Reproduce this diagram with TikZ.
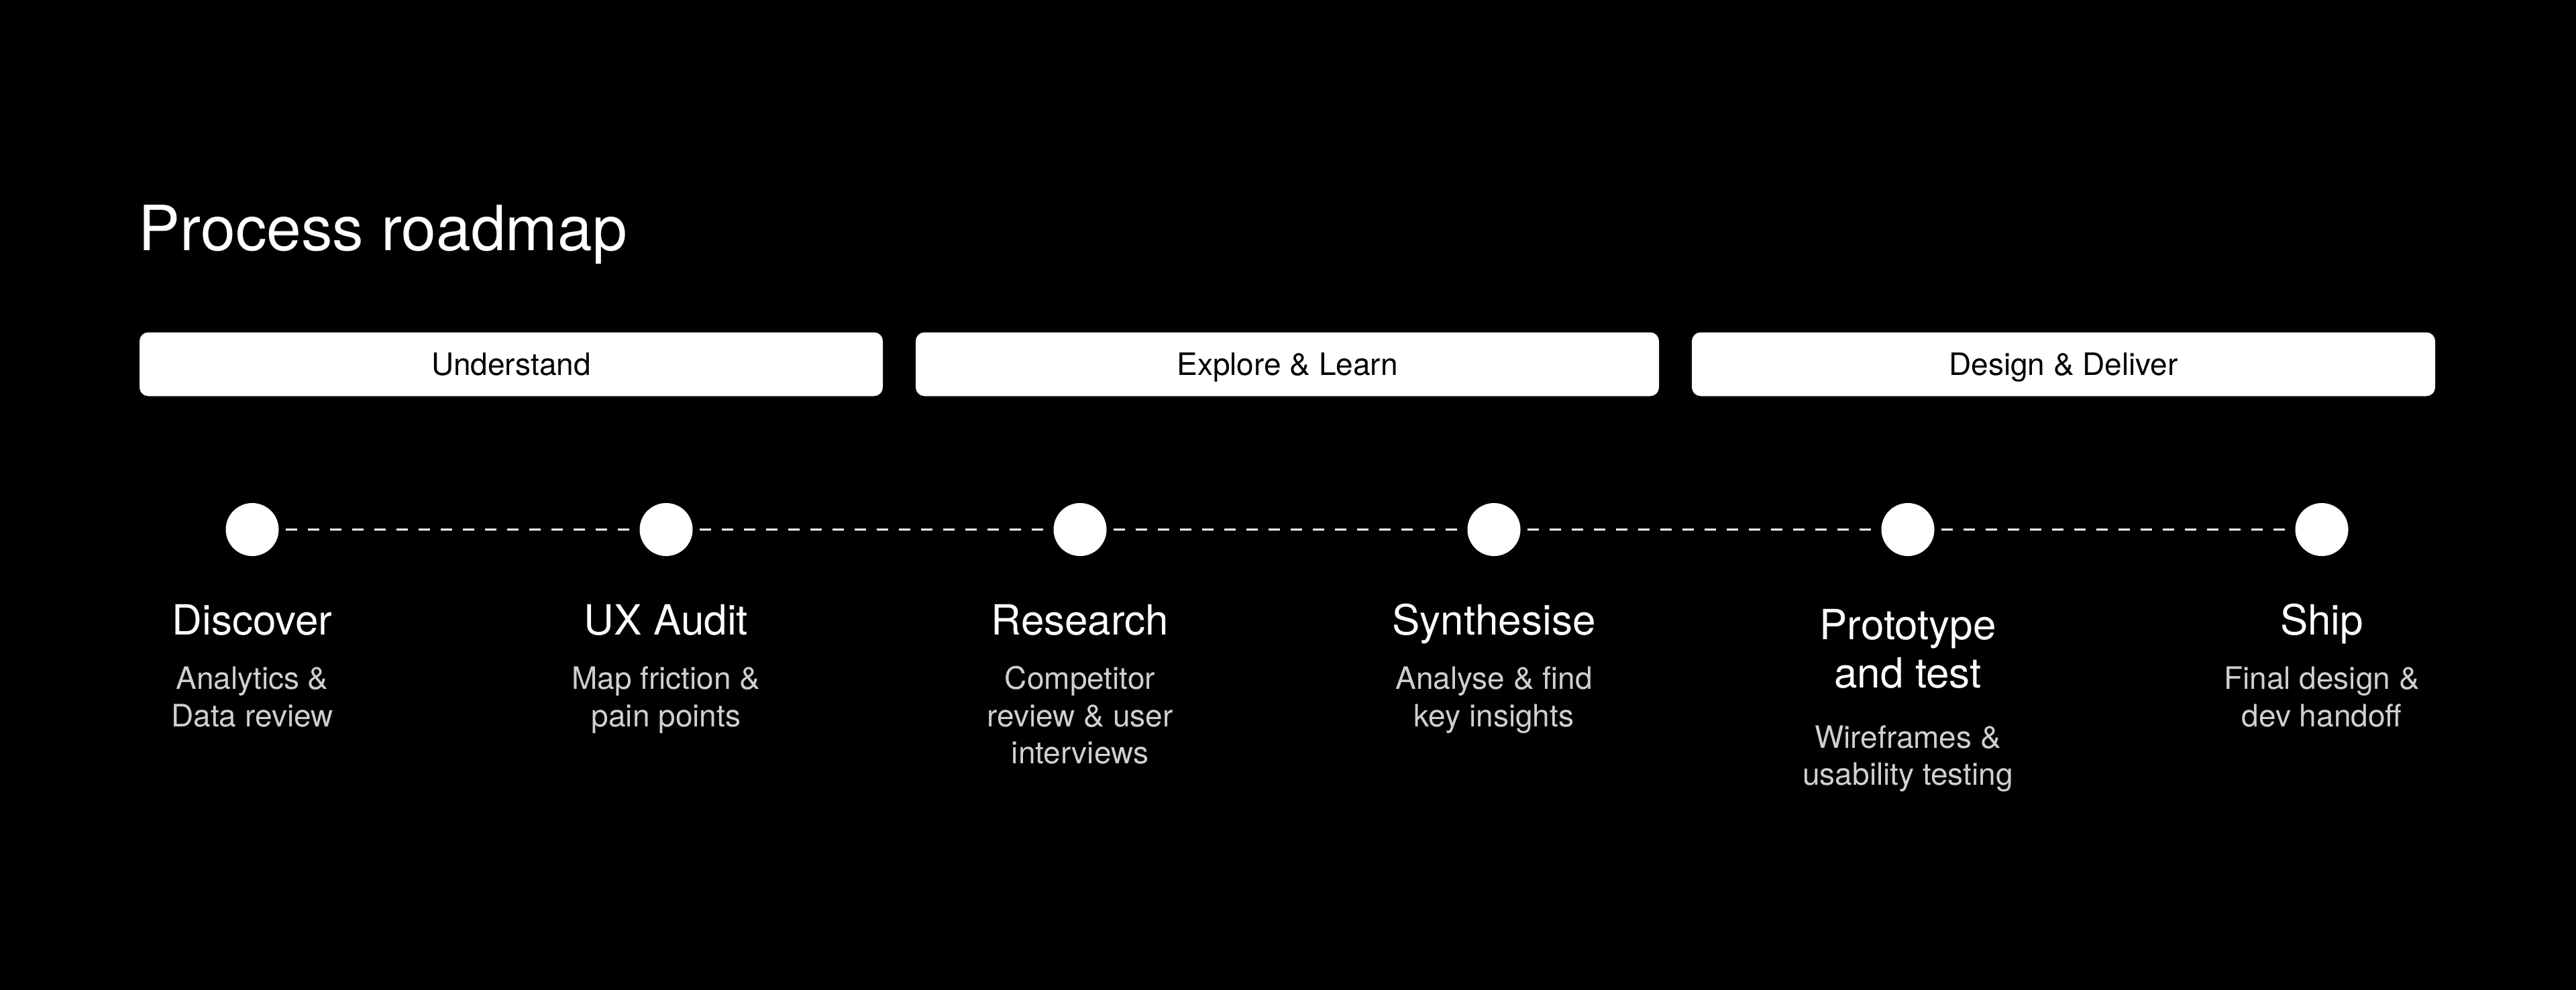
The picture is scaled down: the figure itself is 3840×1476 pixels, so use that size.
\documentclass[tikz,border=0pt]{standalone}
\usepackage{fontspec}
\setmainfont{TeX Gyre Heros}
\definecolor{descgray}{HTML}{D0D0D0}
\begin{document}
\begin{tikzpicture}[x=0.25pt,y=-0.25pt,
  phasebar/.style={fill=white, rounded corners=3.25pt, minimum width=277pt, minimum height=23.75pt,
    inner sep=0pt, text=black, font=\fontsize{11.5}{13.9}\selectfont, text height=8.3pt, text depth=0pt},
  dot/.style={circle, fill=white, minimum size=19.75pt, inner sep=0pt},
  steptitle/.style={anchor=base, inner sep=0pt, text=white, font=\fontsize{15.5}{18}\selectfont},
  stepdesc/.style={anchor=base, inner sep=0pt, text=descgray, font=\fontsize{11.5}{13.9}\selectfont},
  dashline/.style={draw=white, line width=0.625pt, dash pattern=on 4.25pt off 4pt, dash phase=5.75pt}
]
\fill[black] (0,0) rectangle (3840,1476);
\useasboundingbox (0,0) rectangle (3840,1476);

\node[anchor=base west, inner sep=0pt, text=white, font=\fontsize{23.25}{28}\selectfont] (title) at (206,373) {Process roadmap};

\node[phasebar] (p1) at (762,543) {Understand};
\node[phasebar] (p2) at (1919,543) {Explore \& Learn};
\node[phasebar] (p3) at (3076,543) {Design \& Deliver};

\node[dot] (c1) at (376,789.5) {};
\node[dot] (c2) at (993,789.5) {};
\node[dot] (c3) at (1610,789.5) {};
\node[dot] (c4) at (2227,789.5) {};
\node[dot] (c5) at (2844,789.5) {};
\node[dot] (c6) at (3461,789.5) {};

\draw[dashline] (c1) -- (c2);
\draw[dashline] (c2) -- (c3);
\draw[dashline] (c3) -- (c4);
\draw[dashline] (c4) -- (c5);
\draw[dashline] (c5) -- (c6);

% step titles
\node[steptitle] (t1) at (376,946) {Discover};
\node[steptitle] (t2) at (993,946) {UX Audit};
\node[steptitle] (t3) at (1610,946) {Research};
\node[steptitle] (t4) at (2227,946) {Synthesise};
\node[steptitle] (t5a) at (2844,953) {Prototype};
\node[steptitle] (t5b) at (2844,1025) {and test};
\node[steptitle] (t6) at (3461,946) {Ship};

% descriptions
\node[stepdesc] (d1a) at (376,1027.5) {Analytics \&};
\node[stepdesc] (d1b) at (376,1083) {Data review};
\node[stepdesc] (d2a) at (993,1027.5) {Map friction \&};
\node[stepdesc] (d2b) at (993,1083) {pain points};
\node[stepdesc] (d3a) at (1610,1027.5) {Competitor};
\node[stepdesc] (d3b) at (1610,1083) {review \& user};
\node[stepdesc] (d3c) at (1610,1138.5) {interviews};
\node[stepdesc] (d4a) at (2227,1027.5) {Analyse \& find};
\node[stepdesc] (d4b) at (2227,1083) {key insights};
\node[stepdesc] (d5a) at (2844,1115) {Wireframes \&};
\node[stepdesc] (d5b) at (2844,1170) {usability testing};
\node[stepdesc] (d6a) at (3461,1027.5) {Final design \&};
\node[stepdesc] (d6b) at (3461,1083) {dev handoff};
\end{tikzpicture}
\end{document}
